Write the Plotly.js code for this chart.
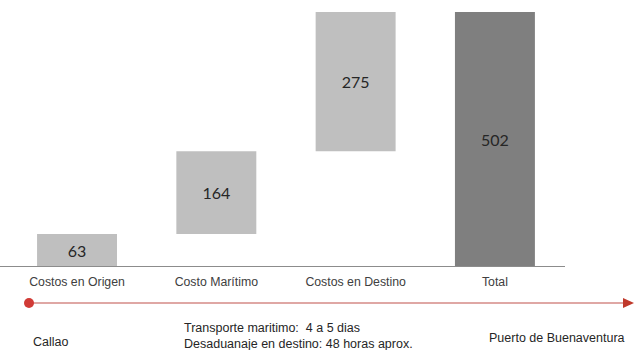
<!DOCTYPE html>
<html>
<head>
<meta charset="utf-8">
<script src="https://cdn.plot.ly/plotly-3.0.1.min.js"></script>
<style>html,body{margin:0;padding:0;background:#fff;}#chart{width:634px;height:350px;}</style>
</head>
<body>
<div id="chart"></div>
<script>
var categories = ['Costos en Origen', 'Costo Marítimo', 'Costos en Destino', 'Total'];
var values = [63, 164, 275, 502];
var measures = ['relative', 'relative', 'relative', 'total'];
var valueLabels = ['63', '164', '275', '502'];

var W = 634, H = 350;
var plotLeft = 0, plotRight = 565, plotTop = 12, plotBottom = 266;
function px(x) { return (x - plotLeft) / (plotRight - plotLeft); }
function py(y) { return (plotBottom - y) / (plotBottom - plotTop); }

var trace = {
  type: 'waterfall',
  x: categories,
  y: values,
  measure: measures,
  text: valueLabels,
  textposition: 'inside',
  insidetextanchor: 'middle',
  textangle: 0,
  textfont: {family: 'Lato, Carlito, sans-serif', size: 16, color: '#262626'},
  increasing: {marker: {color: '#bfbfbf'}},
  decreasing: {marker: {color: '#bfbfbf'}},
  totals: {marker: {color: '#7f7f7f'}},
  connector: {visible: false},
  hoverinfo: 'none',
  cliponaxis: false
};

var lineY = py(303);
var bottomFont = {family: 'Liberation Sans, Arial, sans-serif', size: 12.5, color: '#262626'};
var layout = {
  width: W, height: H,
  margin: {l: plotLeft, r: W - plotRight, t: plotTop, b: H - plotBottom},
  paper_bgcolor: '#ffffff',
  plot_bgcolor: '#ffffff',
  showlegend: false,
  waterfallgap: 0.426,
  xaxis: {
    type: 'category',
    range: [-0.553, 3.503],
    showline: true, linecolor: '#8c8c8c', linewidth: 1,
    showgrid: false, zeroline: false, ticks: '',
    ticklabelstandoff: 4,
    tickfont: {family: 'Liberation Sans, Arial, sans-serif', size: 12.3, color: '#404040'},
    fixedrange: true
  },
  yaxis: {
    range: [0, 502], visible: false, showgrid: false, zeroline: false, fixedrange: true
  },
  shapes: [
    {type: 'line', xref: 'paper', yref: 'paper', x0: px(29), x1: px(624), y0: lineY, y1: lineY,
     line: {color: '#d48a86', width: 1.5}},
    {type: 'path', xref: 'paper', yref: 'paper',
     path: 'M ' + px(623) + ',' + py(298) + ' L ' + px(634) + ',' + py(303) + ' L ' + px(623) + ',' + py(308) + ' Z',
     fillcolor: '#c0392b', line: {width: 0}},
    {type: 'circle', xref: 'paper', yref: 'paper',
     x0: px(24), x1: px(34), y0: py(298), y1: py(308),
     fillcolor: '#d13b36', line: {width: 0}}
  ],
  annotations: [
    {xref: 'paper', yref: 'paper', x: px(31), y: py(342), xanchor: 'left', yanchor: 'middle',
     text: 'Callao', showarrow: false, font: bottomFont},
    {xref: 'paper', yref: 'paper', x: px(182), y: py(335.5), xanchor: 'left', yanchor: 'middle', align: 'left',
     text: 'Transporte maritimo:  4 a 5 dias<br>Desaduanaje en destino: 48 horas aprox.', showarrow: false,
     font: bottomFont},
    {xref: 'paper', yref: 'paper', x: px(487), y: py(338), xanchor: 'left', yanchor: 'middle',
     text: 'Puerto de Buenaventura', showarrow: false, font: bottomFont}
  ]
};

Plotly.newPlot('chart', [trace], layout, {displayModeBar: false, staticPlot: true});
</script>
</body>
</html>
